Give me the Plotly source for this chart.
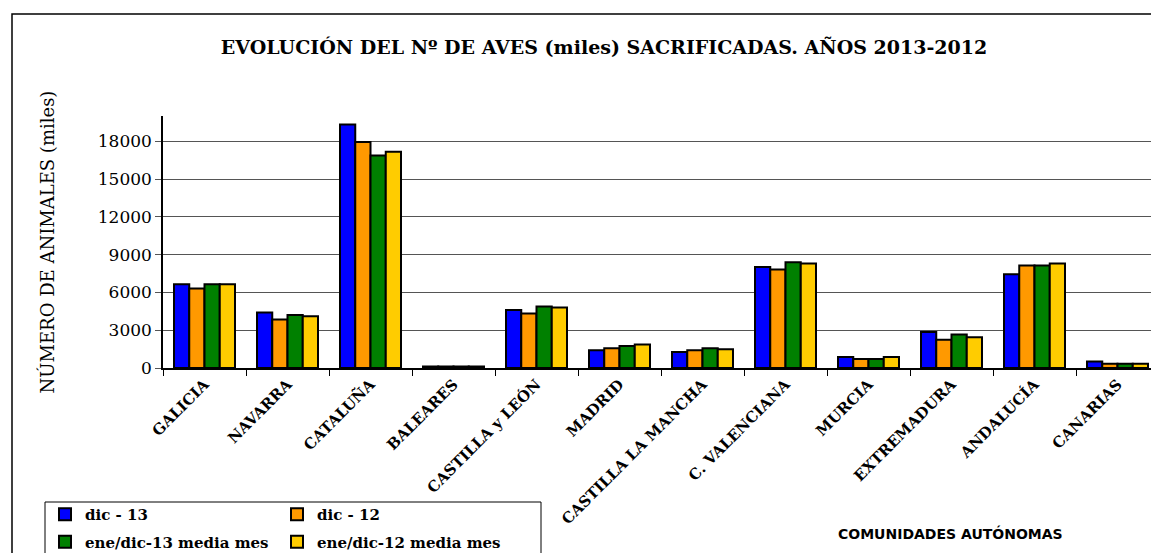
import plotly.graph_objects as go

categories = ["GALICIA", "NAVARRA", "CATALUÑA", "BALEARES", "CASTILLA y LEÓN", "MADRID",
              "CASTILLA LA MANCHA", "C. VALENCIANA", "MURCIA", "EXTREMADURA", "ANDALUCÍA", "CANARIAS"]
dic_13 = [6650, 4400, 19330, 120, 4600, 1400, 1270, 8020, 870, 2860, 7440, 510]
dic_12 = [6300, 3850, 17930, 120, 4320, 1560, 1400, 7810, 720, 2250, 8130, 340]
media_13 = [6650, 4200, 16870, 120, 4880, 1750, 1560, 8400, 720, 2650, 8130, 340]
media_12 = [6650, 4100, 17160, 120, 4800, 1860, 1480, 8290, 870, 2440, 8290, 340]
series_names = ["dic - 13", "dic - 12", "ene/dic-13 media mes", "ene/dic-12 media mes"]
colors = ["#0000FF", "#FF9900", "#008000", "#FFCC00"]
y_ticks = [0, 3000, 6000, 9000, 12000, 15000, 18000]
y_ticktext = ["0", "3000", "6000", "9000", "12000", "15000", "18000"]

OFF = 8  # page body margin
W, H = 1159 - OFF, 553 - OFF
L, T = 163 - OFF, 116 - OFF
B = H - (368 - OFF)
R = 0
pw, ph = W - L - R, H - T - B

def px_x(x):  # reference page px -> paper
    return (x - OFF - L) / pw

def px_y(y):
    return (H - B - (y - OFF)) / ph

fig = go.Figure()
legend_of = ["legend", "legend2", "legend", "legend2"]
for name, vals, c, lg in zip(series_names, [dic_13, dic_12, media_13, media_12], colors, legend_of):
    fig.add_trace(go.Bar(x=categories, y=vals, name=name, legend=lg, legendgroup=name,
                         marker=dict(color=c, line=dict(color="black", width=2))))

serif = "DejaVu Serif"
leg_common = dict(orientation="v", yanchor="top", xanchor="left", bgcolor="rgba(0,0,0,0)",
                  borderwidth=0, tracegroupgap=5,
                  font=dict(family=serif, size=15, color="black", weight="bold"))
fig.update_layout(
    width=W, height=H,
    margin=dict(l=L, r=R, t=T, b=B, autoexpand=False),
    paper_bgcolor="white", plot_bgcolor="white",
    barmode="group", bargap=0.265, bargroupgap=0,
    title=dict(text="<b>EVOLUCIÓN DEL Nº DE AVES (miles) SACRIFICADAS. AÑOS 2013-2012</b>",
               x=(604 - OFF) / W, xanchor="center", y=1 - (47 - OFF) / H, yanchor="middle",
               font=dict(family=serif, size=19, color="black")),
    showlegend=True,
    legend=dict(x=px_x(45), y=px_y(498), **leg_common),
    legend2=dict(x=px_x(277), y=px_y(498), **leg_common),
    xaxis=dict(showline=True, linecolor="black", linewidth=1.5, ticks="outside",
               tickson="boundaries", ticklen=6, tickcolor="black", tickangle=-45,
               tickfont=dict(family=serif, size=15, color="black", weight="bold"),
               showgrid=False, automargin=False),
    yaxis=dict(range=[0, 20000], tickvals=y_ticks, ticktext=y_ticktext, showline=True,
               linecolor="black", linewidth=1.5, ticks="outside", ticklen=6, tickcolor="#555555",
               showgrid=True, gridcolor="#555555", gridwidth=1.3,
               tickfont=dict(family=serif, size=17, color="black"),
               title=dict(text="NÚMERO DE ANIMALES (miles)",
                          font=dict(family=serif, size=18, color="black"), standoff=38),
               zeroline=False, automargin=False),
)

fig.add_annotation(text="<b>COMUNIDADES AUTÓNOMAS</b>", xref="paper", yref="paper",
                   x=px_x(950), y=px_y(533), xanchor="center", yanchor="middle",
                   showarrow=False, font=dict(family="DejaVu Sans", size=14, color="black"))

fig.add_shape(type="rect", xref="paper", yref="paper",
              x0=px_x(12), x1=px_x(1175), y0=px_y(570), y1=px_y(14),
              line=dict(color="black", width=1.5), layer="below")
fig.add_shape(type="rect", xref="paper", yref="paper",
              x0=px_x(45), x1=px_x(541), y0=px_y(600), y1=px_y(502),
              line=dict(color="black", width=1), layer="below")

fig.write_html("out.html")
